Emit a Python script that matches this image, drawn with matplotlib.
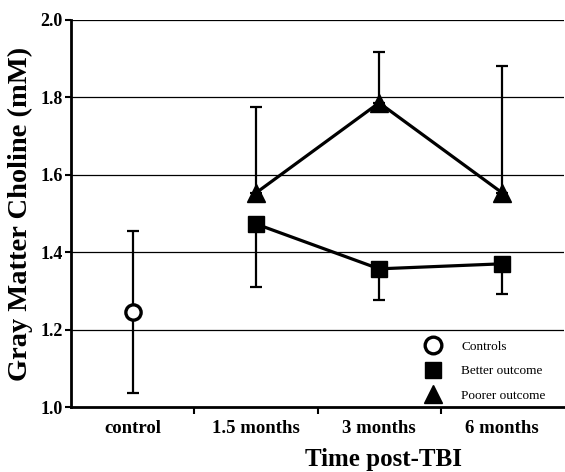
import matplotlib
matplotlib.use("Agg")
import matplotlib.pyplot as plt
from matplotlib.lines import Line2D

# values
categories = ["control", "1.5 months", "3 months", "6 months"]
control_mean = [1.245]
control_err = [0.21]
better_mean = [1.473, 1.357, 1.370]
better_err_low = [0.162, 0.080, 0.078]
poorer_mean = [1.553, 1.786, 1.553]
poorer_err_high = [0.222, 0.131, 0.328]
yticks = [1.0, 1.2, 1.4, 1.6, 1.8, 2.0]
legend_labels = ["Controls", "Better outcome", "Poorer outcome"]

serif = ["Liberation Serif", "DejaVu Serif"]
plt.rcParams["font.family"] = serif

fig = plt.figure(figsize=(5.65, 4.72), dpi=100)
ax = fig.add_axes([0.1257, 0.1377, 0.8725, 0.82])

for y in yticks[1:]:
    ax.axhline(y, color="black", lw=0.9, zorder=0)

xc = [0]
xt = [1, 2, 3]

ax.errorbar(xc, control_mean, yerr=[control_err, control_err], fmt="none",
            ecolor="black", elinewidth=1.6, capsize=4, capthick=1.6, zorder=2)
ax.plot(xc, control_mean, "o", ms=11, mfc="white", mec="black", mew=2.4, zorder=4)

ax.errorbar(xt, better_mean, yerr=[better_err_low, [0, 0, 0]], fmt="none",
            ecolor="black", elinewidth=1.6, capsize=4, capthick=1.6, zorder=2)
ax.plot(xt, better_mean, "s-", color="black", lw=2.3, ms=12, zorder=4)

ax.errorbar(xt, poorer_mean, yerr=[[0, 0, 0], poorer_err_high], fmt="none",
            ecolor="black", elinewidth=1.6, capsize=4, capthick=1.6, zorder=2)
ax.plot(xt, poorer_mean, "^-", color="black", lw=2.3, ms=13, zorder=4)

ax.set_xlim(-0.5, 3.5)
ax.set_ylim(1.0, 2.0)
ax.set_yticks(yticks)
ax.set_yticklabels([f"{v:.1f}" for v in yticks], fontsize=13, fontweight="bold")
ax.set_xticks([0.5, 1.5, 2.5])
ax.set_xticklabels([])
ax.set_xticks(range(len(categories)), minor=True)
ax.set_xticklabels(categories, minor=True, fontsize=13.5, fontweight="bold")
ax.tick_params(axis="x", which="minor", length=0, pad=9)
ax.tick_params(axis="x", which="major", length=5, width=1.5, direction="out")
ax.tick_params(axis="y", length=4, width=1.5, direction="out", pad=2)

for s in ["top", "right"]:
    ax.spines[s].set_visible(False)
for s in ["left", "bottom"]:
    ax.spines[s].set_linewidth(2)

ax.set_ylabel("Gray Matter Choline (mM)", fontsize=20.5, fontweight="bold", labelpad=5)
ax.set_xlabel("Time post-TBI", fontsize=18, fontweight="bold")
ax.xaxis.set_label_coords(0.633, -0.105)

handles = [
    Line2D([], [], ls="none", marker="o", ms=12, mfc="white", mec="black", mew=2.4),
    Line2D([], [], ls="none", marker="s", ms=12, color="black"),
    Line2D([], [], ls="none", marker="^", ms=13, color="black"),
]
ax.legend(handles, legend_labels, loc="lower left", bbox_to_anchor=(0.69, -0.018),
          frameon=False, fontsize=9.5, handlelength=1.5, handletextpad=1.4,
          labelspacing=0.95)

fig.savefig("out.png", dpi=100)
